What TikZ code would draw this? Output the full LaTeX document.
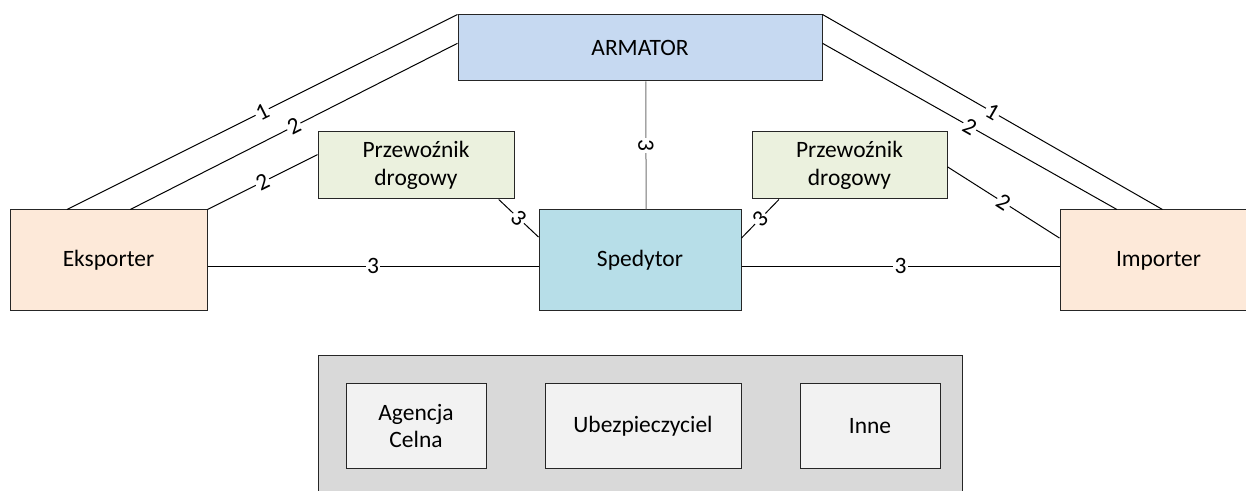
\documentclass[tikz,border=0pt]{standalone}
\usepackage{fontspec}
\setmainfont{Carlito}
\usetikzlibrary{calc}
\definecolor{armc}{HTML}{C6D9F1}
\definecolor{przc}{HTML}{EBF1DE}
\definecolor{spedc}{HTML}{B7DEE8}
\definecolor{eksc}{HTML}{FDE9D9}
\definecolor{grayc}{HTML}{D9D9D9}
\definecolor{innerc}{HTML}{F2F2F2}
\definecolor{edgec}{HTML}{262626}
\begin{document}
\begin{tikzpicture}[x=0.75pt,y=-0.75pt,
  box/.style={draw=edgec, line width=0.75pt, inner sep=0pt, align=center,
    font=\fontsize{17.6}{20.5}\selectfont},
  conn/.style={line width=0.75pt, draw=black},
  lab/.style={midway, sloped, fill=white, inner sep=1pt,
    font=\fontsize{17.6}{20.5}\selectfont}]
\useasboundingbox (0,0) rectangle (1246,491);
\clip (0,0) rectangle (1246,491);
\fill[white] (0,0) rectangle (1246,491);

% main nodes
\node[box, fill=armc, minimum width=273pt, minimum height=49.5pt] (arm) at (640,48) {ARMATOR};
\node[box, fill=przc, minimum width=147pt, minimum height=50.25pt] (prz1) at (416,165.5) {Przewoźnik\\drogowy};
\node[box, fill=przc, minimum width=146.25pt, minimum height=50.25pt] (prz2) at (849.5,165.5) {Przewoźnik\\drogowy};
\node[box, fill=spedc, minimum width=151.5pt, minimum height=75.75pt] (sped) at (640,260.5) {Spedytor};
\node[box, fill=eksc, minimum width=147.75pt, minimum height=75.75pt] (eks) at (108.5,260.5) {Eksporter};
\node[box, fill=eksc, minimum width=147.75pt, minimum height=75.75pt] (imp) at (1158.5,260.5) {Importer};

% bottom group
\node[box, fill=grayc, minimum width=483pt, minimum height=108pt] (grp) at (640,428) {};
\node[box, fill=innerc, minimum width=105pt, minimum height=63pt] (agc) at (416,426) {Agencja\\Celna};
\node[box, fill=innerc, minimum width=147pt, minimum height=63pt] (ubz) at (643,426) {Ubezpieczyciel};
\node[box, fill=innerc, minimum width=105pt, minimum height=63pt] (inn) at (870,426) {Inne};

% left side connectors
\draw[conn] ($(eks.north west)!0.29!(eks.north east)$) -- (arm.north west) node[lab] {1};
\draw[conn] ($(eks.north west)!0.61!(eks.north east)$) -- ($(arm.north west)!0.43!(arm.south west)$) node[lab] {2};
\draw[conn] (eks.north east) -- ($(prz1.north west)!0.34!(prz1.south west)$) node[lab] {2};
\draw[conn] ($(prz1.south west)!0.92!(prz1.south east)$) -- ($(sped.north west)!0.27!(sped.south west)$) node[lab] {3};
\draw[conn] ($(eks.north east)!0.555!(eks.south east)$) -- ($(sped.north west)!0.555!(sped.south west)$) node[lab] {3};

% centre connector
\draw[line width=0.75pt, draw=black!55] ($(arm.south west)!0.516!(arm.south east)$) -- ($(sped.north west)!0.53!(sped.north east)$)
  node[midway, rotate=-90, fill=white, inner sep=1pt, font=\fontsize{17.6}{20.5}\selectfont] {3};

% right side connectors
\draw[conn] (arm.north east) -- ($(imp.north west)!0.52!(imp.north east)$) node[lab] {1};
\draw[conn] ($(arm.north east)!0.43!(arm.south east)$) -- ($(imp.north west)!0.29!(imp.north east)$) node[lab] {2};
\draw[conn] ($(prz2.north east)!0.52!(prz2.south east)$) -- ($(imp.north west)!0.28!(imp.south west)$) node[lab] {2};
\draw[conn] ($(sped.north east)!0.28!(sped.south east)$) -- ($(prz2.south west)!0.14!(prz2.south east)$) node[lab] {3};
\draw[conn] ($(sped.north east)!0.555!(sped.south east)$) -- ($(imp.north west)!0.555!(imp.south west)$) node[lab] {3};
\end{tikzpicture}
\end{document}
